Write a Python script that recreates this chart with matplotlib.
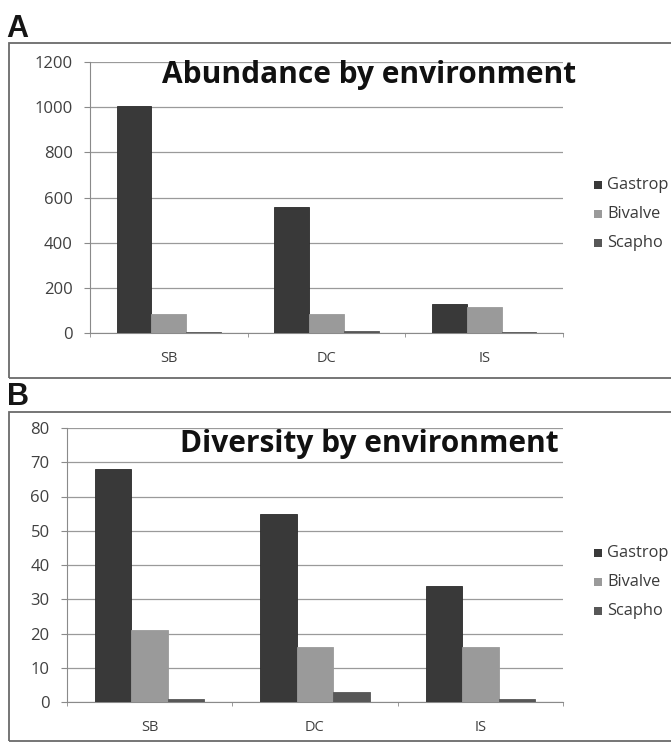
import matplotlib
matplotlib.use('Agg')
import matplotlib.pyplot as plt
from matplotlib.patches import Rectangle
import numpy as np

sites = ['SB', 'DC', 'IS']
# legend labels as they appear, cut at the right edge of the scan
groups = ['Gastrop', 'Bivalve', 'Scapho']
colors = ['#393939', '#9a9a9a', '#575757']

abundance_gastro = [1005, 560, 130]
abundance_bival = [85, 82, 115]
abundance_scaph = [3, 10, 3]

diversity_gastro = [68, 55, 34]
diversity_bival = [21, 16, 16]
diversity_scaph = [1, 3, 1]

W, H = 671, 743
fig = plt.figure(figsize=(W / 100, H / 100), dpi=100)
fig.patch.set_facecolor('white')

def fx(px):
    return px / W

def fy(py):
    return 1 - py / H

# panel boxes (open on the right like the original)
for top, bot in [(43, 378), (412, 741)]:
    fig.patches.append(Rectangle((fx(9), fy(bot)), fx(700), (bot - top) / H,
                                 transform=fig.transFigure, fill=False,
                                 edgecolor='#6a6a6a', linewidth=1.3))
fig.text(fx(6), fy(37), 'A', fontsize=22, fontweight='bold',
         family='Liberation Sans', va='baseline', color='#151515')
fig.text(fx(7), fy(405), 'B', fontsize=22, fontweight='bold',
         family='Liberation Sans', va='baseline', color='#151515')


def panel(left, top, bottom, series, ymax, step, title, title_base, leg_y):
    ax = fig.add_axes([fx(left), fy(bottom), fx(563 - left), (bottom - top) / H])
    x = np.arange(len(sites))
    w = 0.22
    for i, vals in enumerate(series):
        ax.bar(x + (i - 1) * w, vals, width=w, color=colors[i],
               edgecolor='#2a2a2a' if i == 0 else colors[i], linewidth=0.6, zorder=3)
    ax.set_xlim(-0.5, 2.5)
    ax.set_ylim(0, ymax)
    ax.set_yticks(np.arange(0, ymax + 1, step))
    ax.set_xticks(x)
    ax.set_xticklabels(sites)
    ax.set_xticks([-0.5, 0.5, 1.5, 2.5], minor=True)
    ax.grid(axis='y', color='#9a9a9a', linewidth=0.9, zorder=0)
    for s in ['top', 'right']:
        ax.spines[s].set_visible(False)
    ax.spines['left'].set_color('#8a8a8a')
    ax.spines['bottom'].set_color('#8a8a8a')
    ax.tick_params(axis='y', labelsize=12, colors='#8a8a8a', labelcolor='#404040',
                   length=4.5, direction='out', pad=8)
    ax.tick_params(axis='x', which='major', length=0, labelsize=10.5,
                   labelcolor='#404040', pad=13)
    ax.tick_params(axis='x', which='minor', length=3, colors='#8a8a8a')
    for lab in ax.get_xticklabels() + ax.get_yticklabels():
        lab.set_family('Open Sans')
    fig.text(fx(369), fy(title_base), title, ha='center', va='baseline',
             fontsize=21.5, fontweight='bold', family='Open Sans', color='#111111')
    for i, g in enumerate(groups):
        yc = leg_y + i * 28.8
        fig.patches.append(Rectangle((fx(594), fy(yc + 4)), fx(8), 8 / H,
                                     transform=fig.transFigure,
                                     facecolor=colors[i], edgecolor='none'))
        fig.text(fx(607), fy(yc), g, ha='left', va='center', fontsize=11.8,
                 family='Open Sans', color='#3a3a3a')
    return ax

panel(90, 62, 333, [abundance_gastro, abundance_bival, abundance_scaph],
      1200, 200, 'Abundance by environment', 83, 185)
panel(67, 428, 702, [diversity_gastro, diversity_bival, diversity_scaph],
      80, 10, 'Diversity by environment', 452, 553)

fig.savefig('out.png', dpi=100)
